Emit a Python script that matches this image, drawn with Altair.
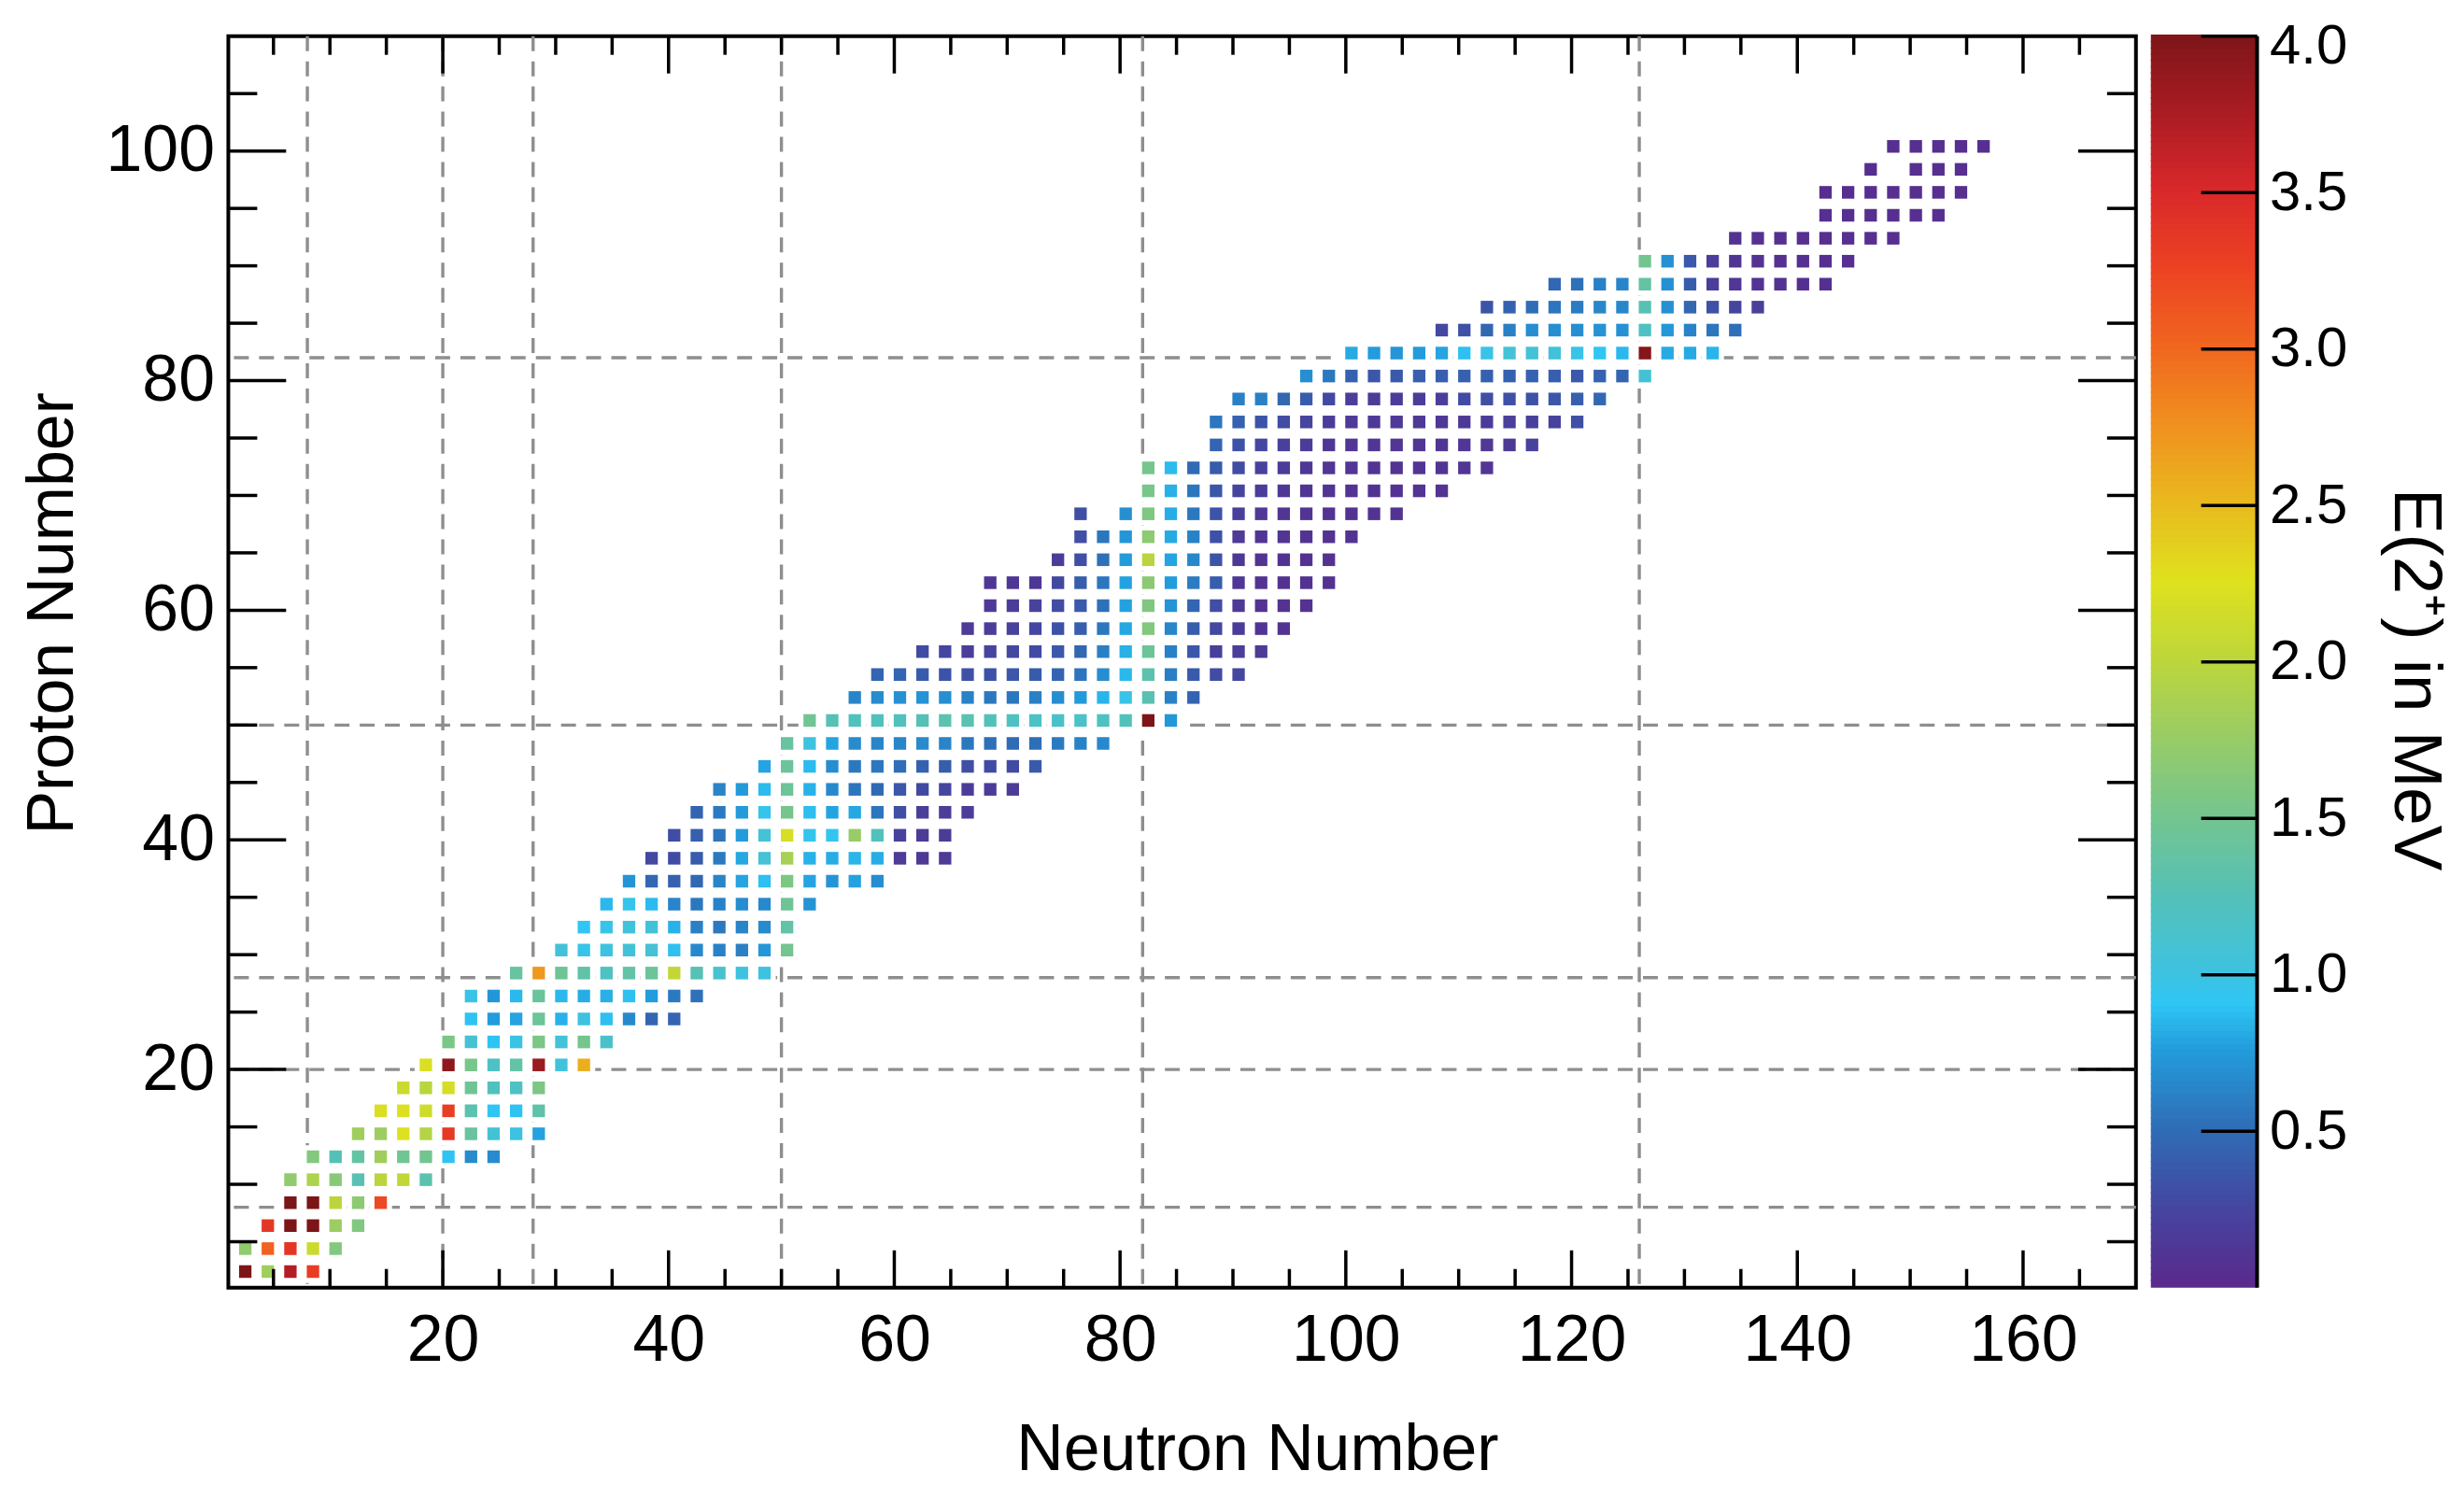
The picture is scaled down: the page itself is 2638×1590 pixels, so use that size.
import altair as alt
import pandas as pd

# ---- data: E(2+) in MeV for even-even nuclei, one row per proton number ----
ROW_Z = [2, 4, 6, 8, 10, 12, 14, 16, 18, 20, 22, 24, 26, 28, 30, 32, 34, 36, 38, 40,
         42, 44, 46, 48, 50, 52, 54, 56, 58, 60, 62, 64, 66, 68, 70, 72, 74, 76, 78, 80,
         82, 84, 86, 88, 90, 92, 94, 96, 98, 100]
# neutron number of the first cell of each row (cells step by 2)
ROW_N0 = [2, 2, 4, 6, 6, 8, 12, 14, 16, 18, 20, 22, 22, 26, 30, 32, 34, 36, 38, 40,
          42, 44, 48, 50, 52, 56, 58, 62, 66, 68, 68, 74, 76, 76, 82, 82, 88, 88, 90, 96,
          100, 108, 112, 118, 126, 134, 142, 142, 146, 148]
ROW_E = [
    [4.0, 1.8, 3.7, 3.3],
    [1.7, 3.03, 3.37, 2.1, 1.59],
    [3.35, 4.0, 4.0, 1.77, 1.59],
    [4.0, 4.0, 1.98, 1.67, 3.2],
    [1.7, 1.89, 1.63, 1.27, 1.98, 2.02, 1.3],
    [1.6, 1.25, 1.37, 1.81, 1.47, 1.48, 0.89, 0.66, 0.66],
    [1.8, 1.78, 2.24, 1.94, 3.33, 1.4, 1.07, 0.99, 0.77],
    [2.21, 2.23, 2.13, 3.29, 1.29, 0.9, 0.89, 1.33],
    [2.09, 1.97, 2.17, 1.46, 1.21, 1.16, 1.55],
    [2.21, 3.9, 1.52, 1.16, 1.35, 3.83, 1.03, 2.56],
    [1.55, 1.08, 0.89, 0.98, 1.55, 1.05, 1.5, 1.13],
    [0.89, 0.75, 0.78, 1.43, 0.83, 1.0, 0.88, 0.65, 0.45, 0.45],
    [0.97, 0.72, 0.85, 1.41, 0.85, 0.81, 0.82, 0.88, 0.75, 0.57, 0.52],
    [1.39, 2.7, 1.45, 1.33, 1.17, 1.35, 1.43, 2.03, 1.26, 1.1, 1.0, 1.0],
    [1.04, 0.95, 0.99, 1.04, 1.08, 0.88, 0.65, 0.61, 0.6, 0.73, 1.49],
    [0.90, 0.96, 1.02, 1.04, 0.83, 0.60, 0.56, 0.62, 0.66, 1.35],
    [0.85, 0.94, 0.86, 0.63, 0.56, 0.61, 0.67, 0.65, 1.45, 0.70],
    [0.71, 0.46, 0.42, 0.46, 0.62, 0.78, 0.88, 1.56, 0.78, 0.71, 0.77, 0.67],
    [0.26, 0.28, 0.39, 0.57, 0.79, 1.08, 1.84, 0.83, 0.81, 0.84, 0.81, 0.14, 0.13, 0.13],
    [0.29, 0.41, 0.54, 0.75, 1.06, 2.19, 0.93, 0.92, 1.75, 1.22, 0.21, 0.15, 0.15],
    [0.44, 0.57, 0.74, 0.95, 1.51, 0.87, 0.78, 0.79, 0.54, 0.30, 0.19, 0.17, 0.17],
    [0.62, 0.74, 0.86, 1.43, 0.83, 0.65, 0.54, 0.48, 0.36, 0.27, 0.25, 0.16, 0.15, 0.15],
    [0.78, 1.42, 0.86, 0.67, 0.56, 0.56, 0.51, 0.43, 0.40, 0.30, 0.28, 0.28, 0.38],
    [1.39, 1.0, 0.78, 0.66, 0.63, 0.63, 0.66, 0.62, 0.56, 0.51, 0.49, 0.51, 0.57, 0.61, 0.65],
    [1.47, 1.26, 1.21, 1.21, 1.21, 1.26, 1.30, 1.29, 1.23, 1.17, 1.14, 1.13, 1.14, 1.17,
     1.22, 4.0, 0.73],
    [0.63, 0.66, 0.69, 0.71, 0.68, 0.61, 0.56, 0.56, 0.60, 0.67, 0.74, 0.84, 0.97, 1.28,
     0.61, 0.44],
    [0.45, 0.45, 0.39, 0.34, 0.32, 0.33, 0.35, 0.39, 0.44, 0.54, 0.67, 0.85, 1.31, 0.59,
     0.38, 0.29, 0.25],
    [0.28, 0.25, 0.18, 0.23, 0.26, 0.28, 0.36, 0.46, 0.60, 0.82, 1.44, 0.60, 0.36, 0.20,
     0.18, 0.14],
    [0.14, 0.17, 0.21, 0.25, 0.33, 0.41, 0.55, 0.79, 1.60, 0.64, 0.40, 0.26, 0.16, 0.10, 0.08],
    [0.13, 0.16, 0.21, 0.29, 0.37, 0.52, 0.77, 1.58, 0.70, 0.45, 0.30, 0.13, 0.07, 0.07, 0.07],
    [0.12, 0.12, 0.12, 0.26, 0.40, 0.55, 0.77, 1.66, 0.75, 0.58, 0.40, 0.12, 0.08, 0.08,
     0.07, 0.07],
    [0.15, 0.30, 0.52, 0.74, 1.97, 0.78, 0.64, 0.34, 0.12, 0.09, 0.08, 0.075, 0.07],
    [0.30, 0.55, 0.72, 1.68, 0.80, 0.61, 0.33, 0.14, 0.10, 0.087, 0.081, 0.073, 0.077],
    [0.30, None, 0.68, 1.58, 0.81, 0.56, 0.34, 0.19, 0.13, 0.10, 0.09, 0.081, 0.080, 0.079,
     0.077],
    [1.53, 0.82, 0.54, 0.36, 0.24, 0.17, 0.12, 0.10, 0.088, 0.084, 0.079, 0.076, 0.082, 0.084],
    [1.51, 0.86, 0.48, 0.39, 0.29, 0.21, 0.16, 0.12, 0.10, 0.095, 0.091, 0.088, 0.093, 0.093,
     0.098, 0.107],
    [0.45, 0.33, 0.25, 0.20, 0.16, 0.12, 0.11, 0.11, 0.106, 0.104, 0.100, 0.111, 0.122,
     0.143, 0.207],
    [0.55, 0.43, 0.34, 0.29, 0.23, 0.16, 0.14, 0.13, 0.13, 0.13, 0.12, 0.137, 0.155, 0.187,
     0.206, 0.218, 0.30],
    [0.60, 0.60, 0.46, 0.39, 0.26, 0.17, 0.15, 0.155, 0.163, 0.19, 0.27, 0.30, 0.32, 0.33,
     0.36, 0.41, 0.47],
    [0.68, 0.56, 0.43, 0.35, 0.37, 0.41, 0.41, 0.42, 0.42, 0.43, 0.43, 0.41, 0.37, 0.44,
     0.44, 1.07],
    [0.80, 0.75, 0.72, 0.75, 0.78, 0.88, 0.97, 1.05, 1.06, 1.03, 0.96, 0.90, 0.85, 3.95,
     0.80, 0.80, 0.84],
    [0.26, 0.32, 0.46, 0.60, 0.67, 0.68, 0.68, 0.70, 0.69, 1.18, 0.73, 0.61, 0.55, 0.51],
    [0.34, 0.43, 0.50, 0.54, 0.58, 0.64, 0.64, 1.27, 0.69, 0.46, 0.32, 0.24, 0.19],
    [0.47, 0.52, 0.60, 0.63, 1.38, 0.69, 0.39, 0.18, 0.11, 0.084, 0.068, 0.064, 0.063],
    [1.48, 0.69, 0.37, 0.18, 0.098, 0.072, 0.058, 0.053, 0.049, 0.050],
    [0.081, 0.059, 0.052, 0.048, 0.043, 0.045, 0.045, 0.045],
    [0.045, 0.044, 0.043, 0.045, 0.046, 0.046],
    [0.035, 0.038, 0.042, 0.043, 0.043, 0.043, 0.043],
    [0.040, None, 0.041, 0.043, 0.046],
    [0.044, 0.044, 0.047, 0.045, 0.048],
]

MAGIC_N = [8, 20, 28, 50, 82, 126]
MAGIC_Z = [8, 20, 28, 50, 82]
X_LABELS = [20, 40, 60, 80, 100, 120, 140, 160]
Y_LABELS = [20, 40, 60, 80, 100]
X_MINOR = [5, 10, 15, 25, 30, 35, 45, 50, 55, 65, 70, 75, 85, 90, 95, 105, 110, 115,
           125, 130, 135, 145, 150, 155, 165]
Y_MINOR = [5, 10, 15, 25, 30, 35, 45, 50, 55, 65, 70, 75, 85, 90, 95, 105]
CB_TICKS = [0.5, 1.0, 1.5, 2.0, 2.5, 3.0, 3.5, 4.0]

# colour map (rainbow, purple -> dark red)
CMAP_E = [0.0, 0.25, 0.5, 0.75, 0.9, 1.0, 1.25, 1.5, 1.75, 2.0, 2.25, 2.5, 2.75, 3.0,
          3.25, 3.5, 3.75, 4.0]
CMAP_C = ["#5a2a8c", "#4446a0", "#2f6db6", "#229cdc", "#2fc6f4", "#3ec2e0", "#55c1b6",
          "#75c58e", "#98cc66", "#bed63a", "#dfe11e", "#e9b91e", "#f0901f", "#f0661f",
          "#ec4223", "#d9282a", "#a81c22", "#7c1518"]

recs = []
for z, n0, es in zip(ROW_Z, ROW_N0, ROW_E):
    for i, e in enumerate(es):
        if e is None:
            continue
        recs.append({"N": n0 + 2 * i, "Z": z, "E": e})
cells = pd.DataFrame(recs)

FONT = "Liberation Sans"
W, H = 2047, 1343
CBW = 114

XS = alt.Scale(domain=[1, 170], nice=False, zero=False)
YS = alt.Scale(domain=[1, 110], nice=False, zero=False)
CS = alt.Scale(domain=CMAP_E, range=CMAP_C, clamp=True, interpolate="rgb")

# the same axis object is given to every layer, so that the layers merge cleanly
x_axis = alt.Axis(values=X_LABELS, title="Neutron Number", grid=False, ticks=False,
                  domain=False, tickSize=0, labelPadding=23, labelFont=FONT,
                  labelFontSize=70, labelColor="black", titleFont=FONT,
                  titleFontSize=70, titleFontWeight="normal", titleColor="black",
                  titleX=1104, titleY=195, titleBaseline="alphabetic")
y_axis = alt.Axis(values=Y_LABELS, title="Proton Number", grid=False, ticks=False,
                  domain=False, tickSize=0, labelPadding=15, labelFont=FONT,
                  labelFontSize=70, labelColor="black", titleFont=FONT,
                  titleFontSize=70, titleFontWeight="normal", titleColor="black",
                  titleX=-167, titleY=619, titleBaseline="alphabetic", titleAngle=270)

dash = dict(color="#8e8e8e", strokeDash=[16, 11], strokeWidth=3.4)
vlines = alt.Chart(pd.DataFrame({"N": MAGIC_N})).mark_rule(**dash).encode(
    x=alt.X("N:Q", scale=XS, axis=x_axis))
hlines = alt.Chart(pd.DataFrame({"Z": MAGIC_Z})).mark_rule(**dash).encode(
    y=alt.Y("Z:Q", scale=YS, axis=y_axis))

base = alt.Chart(cells).transform_calculate(
    x1="datum.N - 0.05", x2="datum.N + 1.05",
    y1="datum.Z - 0.15", y2="datum.Z + 0.95",
    mx1="datum.N - 0.5", mx2="datum.N + 1.5",
    my1="datum.Z - 0.6", my2="datum.Z + 1.4")
mask = base.mark_rect(color="white").encode(
    x=alt.X("mx1:Q", scale=XS, axis=x_axis), x2="mx2:Q",
    y=alt.Y("my1:Q", scale=YS, axis=y_axis), y2="my2:Q")
colored = base.mark_rect().encode(
    x=alt.X("x1:Q", scale=XS, axis=x_axis), x2="x2:Q",
    y=alt.Y("y1:Q", scale=YS, axis=y_axis), y2="y2:Q",
    color=alt.Color("E:Q", scale=CS, legend=None))


def yticks(vals, x0, x1):
    return alt.Chart(pd.DataFrame({"v": vals})).mark_rule(
        color="black", strokeWidth=3.5).encode(
        y=alt.Y("v:Q", scale=YS, axis=y_axis), x=alt.value(x0), x2=alt.value(x1))


def xticks(vals, y0, y1):
    return alt.Chart(pd.DataFrame({"v": vals})).mark_rule(
        color="black", strokeWidth=3.5).encode(
        x=alt.X("v:Q", scale=XS, axis=x_axis), y=alt.value(y0), y2=alt.value(y1))


ticks = [
    yticks(Y_LABELS, 0, 62), yticks(Y_MINOR, 0, 31),
    yticks(Y_LABELS, W, W - 62), yticks(Y_MINOR, W, W - 31),
    xticks(X_LABELS, H, H - 40), xticks(X_MINOR, H, H - 20),
    xticks(X_LABELS, 0, 40), xticks(X_MINOR, 0, 20),
]

main = alt.layer(vlines, hlines, mask, colored, *ticks).properties(
    width=W, height=H, view=alt.ViewBackground(stroke="black", strokeWidth=4))

# ---- colour bar ----
CBS = alt.Scale(domain=[0, 4], nice=False, zero=False)
cb_axis = alt.Axis(values=CB_TICKS, format=".1f", orient="right", grid=False,
                   ticks=False, domain=False, tickSize=0, labelPadding=13,
                   labelFont=FONT, labelFontSize=60, labelColor="black",
                   labelOffset={"condition": {"test": "datum.value >= 4", "value": 11},
                                "value": 0},
                   title="E(2\u207a) in MeV", titleFont=FONT, titleFontSize=73,
                   titleFontWeight="normal", titleColor="black", titleAngle=90,
                   titleX=147, titleY=690, titleBaseline="alphabetic",
                   titleAlign="center")
grad = alt.Chart(alt.sequence(0, 4, 0.02, as_="e")).transform_calculate(
    e2="datum.e + 0.025").mark_rect(strokeWidth=0).encode(
    y=alt.Y("e:Q", scale=CBS, axis=cb_axis), y2="e2:Q",
    x=alt.value(0), x2=alt.value(CBW),
    color=alt.Color("e:Q", scale=CS, legend=None))
cb_ticks = alt.Chart(pd.DataFrame({"v": CB_TICKS})).mark_rule(
    color="black", strokeWidth=3.5).encode(
    y=alt.Y("v:Q", scale=CBS, axis=cb_axis), x=alt.value(CBW - 60), x2=alt.value(CBW))
cb_edge = alt.Chart(pd.DataFrame({"v": [0]})).mark_rule(
    color="black", strokeWidth=4).encode(
    x=alt.value(CBW), y=alt.value(0), y2=alt.value(H))
colorbar = alt.layer(grad, cb_ticks, cb_edge).properties(
    width=CBW, height=H, view=alt.ViewBackground(strokeWidth=0))

chart = alt.hconcat(main, colorbar, spacing=12).properties(
    padding={"left": 12, "top": 10, "right": 9, "bottom": 5},
    background="white").configure_view(strokeWidth=0)

chart.save("out.html", embed_options={"renderer": "svg", "actions": False})
